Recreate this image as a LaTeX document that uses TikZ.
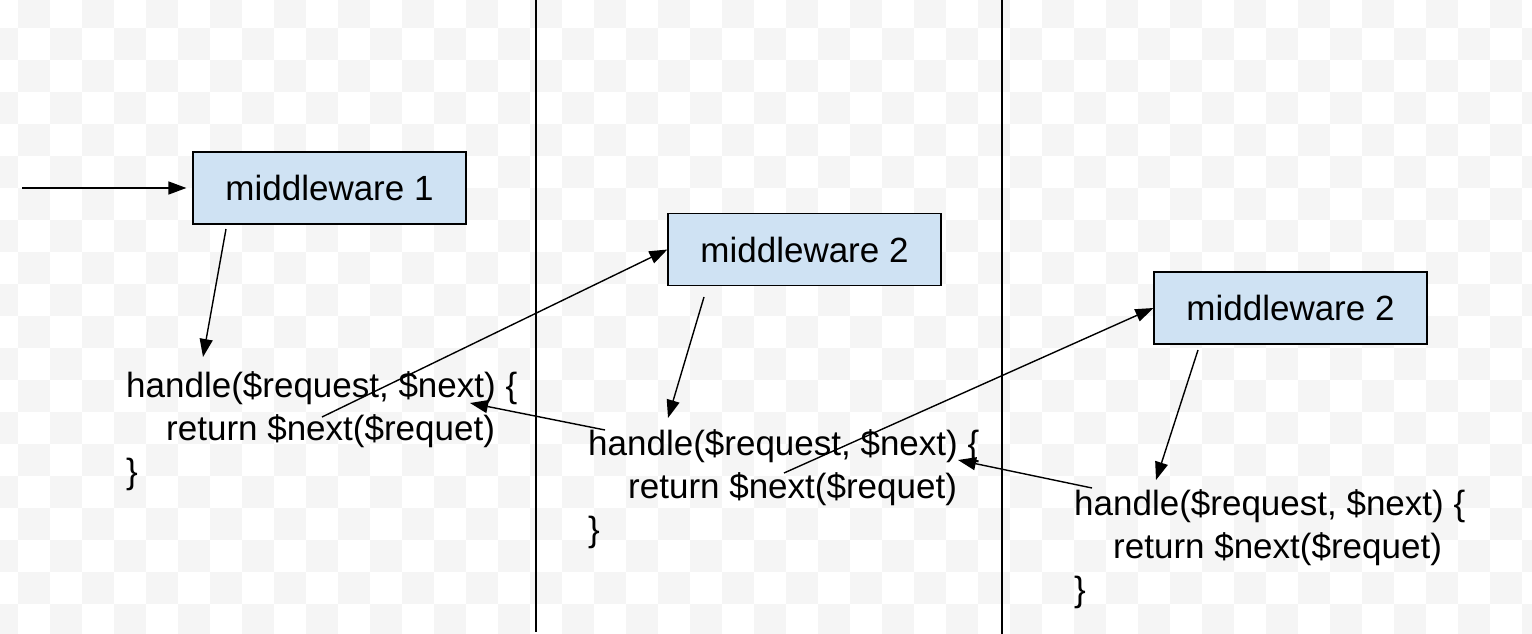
\documentclass[tikz,border=0pt]{standalone}
\usepackage{fontspec}
\setmainfont{Liberation Sans}
\usetikzlibrary{arrows.meta}
\definecolor{chk}{RGB}{245,245,245}
\definecolor{boxblue}{RGB}{207,226,243}
\begin{document}
\begin{tikzpicture}[x=1pt,y=-1pt,
  mbox/.style={draw=black, line width=1.2pt, fill=boxblue, minimum width=273pt, minimum height=72pt, inner sep=0pt, font=\fontsize{35}{42}\selectfont},
  code/.style={anchor=base west, inner sep=0pt, font=\fontsize{35}{42}\selectfont},
  conn/.style={line width=1.4pt, -{Triangle[length=18pt,width=13pt]}},
  divider/.style={line width=1.6pt}]
\useasboundingbox (0,0) rectangle (1532,634);
\begin{scope}
\clip (0,0) rectangle (1532,634);
\fill[white] (0,0) rectangle (1532,634);
\foreach \i in {-1,...,47}{\foreach \j in {-1,...,19}{
  \pgfmathtruncatemacro\pp{mod(\i+\j+2,2)}
  \ifnum\pp=1 \fill[chk] ({18+32*\i},{28+32*\j}) rectangle ++(32,32); \fi
}}
\end{scope}
% dividers
\coordinate (d1t) at (536,0); \coordinate (d1b) at (536,632);
\coordinate (d2t) at (1002,0); \coordinate (d2b) at (1002,634);
\draw[divider] (d1t) -- (d1b);
\draw[divider] (d2t) -- (d2b);
% boxes
\node[mbox] (m1) at (329.5,188) {middleware 1};
\node[mbox] (m2) at (804.5,249.5) {middleware 2};
\node[mbox] (m3) at (1290.5,308) {middleware 2};
% code
\node[code] (h1) at (126,397) {handle(\$request, \$next) \{};
\node[code] (r1) at (166,440) {return \$next(\$requet)};
\node[code] (e1) at (126,483) {\}};
\node[code] (h2) at (588,455) {handle(\$request, \$next) \{};
\node[code] (r2) at (628,498) {return \$next(\$requet)};
\node[code] (e2) at (588,541) {\}};
\node[code] (h3) at (1074,515) {handle(\$request, \$next) \{};
\node[code] (r3) at (1113,558) {return \$next(\$requet)};
\node[code] (e3) at (1074,601) {\}};
% connectors
\coordinate (start) at (22,188);
\draw[conn, shorten >=6pt] (start) -- (m1.west);
\coordinate (m1o) at (226,229); \coordinate (h1i) at (203,357);
\draw[conn] (m1o) -- (h1i);
\coordinate (r1o) at (322,417);
\draw[conn] (r1o) -- (m2.west);
\coordinate (h2o) at (605,430); \coordinate (h1t) at (470,403);
\draw[conn] (h2o) -- (h1t);
\coordinate (m2o) at (704,297); \coordinate (h2i) at (668,418);
\draw[conn] (m2o) -- (h2i);
\coordinate (r2o) at (784,473);
\draw[conn] (r2o) -- (m3.west);
\coordinate (h3o) at (1092,488); \coordinate (h2t) at (958,460);
\draw[conn] (h3o) -- (h2t);
\coordinate (m3o) at (1198,350); \coordinate (h3i) at (1156,480);
\draw[conn] (m3o) -- (h3i);
\end{tikzpicture}
\end{document}
